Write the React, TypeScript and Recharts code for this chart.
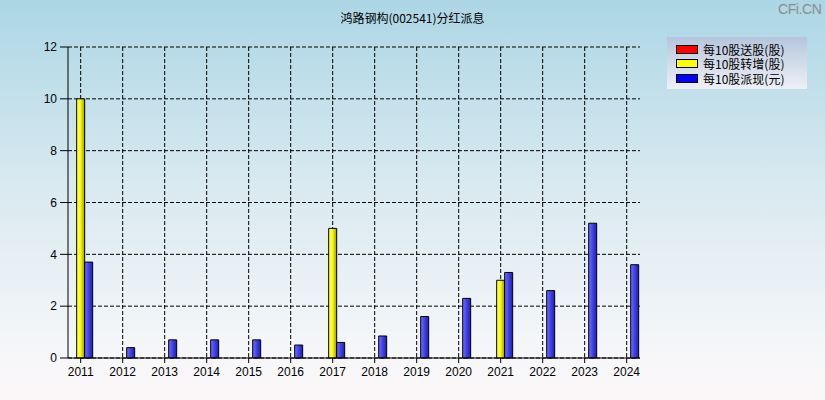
import React from 'react';
import { BarChart, Bar, XAxis, YAxis, CartesianGrid, Legend } from 'recharts';

const years = [2011, 2012, 2013, 2014, 2015, 2016, 2017, 2018, 2019, 2020, 2021, 2022, 2023, 2024];
const songGu: (number | null)[] = [null, null, null, null, null, null, null, null, null, null, null, null, null, null];
const zhuanZeng: (number | null)[] = [10, null, null, null, null, null, 5, null, null, null, 3, null, null, null];
const paiXian: (number | null)[] = [3.7, 0.4, 0.7, 0.7, 0.7, 0.5, 0.6, 0.85, 1.6, 2.3, 3.3, 2.6, 5.2, 3.6];
const yTicks = [0, 2, 4, 6, 8, 10, 12];
const xDomain = [2010.698, 2024.317];
const seriesNames = ['每10股送股(股)', '每10股转增(股)', '每10股派现(元)'];
const seriesColors = ['#ff0000', '#ffff00', '#0000ff'];
const title = '鸿路钢构(002541)分红派息';

const data = years.map((y, i) => ({ year: y, song: songGu[i], zhuan: zhuanZeng[i], pai: paiXian[i] }));

const FONT = '"Liberation Sans", Arial, sans-serif';
const CJK = '"Noto Sans CJK SC", "Liberation Sans", sans-serif';

const verticalGen = (args: any) => {
  const xAxis = args && args.xAxis;
  if (xAxis && typeof xAxis.scale === 'function') {
    return years.map((y) => xAxis.scale(y));
  }
  const off = args.offset;
  return years.map((y) => off.left + ((y - xDomain[0]) / (xDomain[1] - xDomain[0])) * off.width);
};

const renderLegend = () => (
  <div
    style={{
      width: 140,
      height: 52,
      boxSizing: 'border-box',
      background: 'linear-gradient(#b6c5dd, #eef0f7)',
      paddingTop: 5,
      paddingLeft: 9,
    }}
  >
    {seriesNames.map((n, i) => (
      <div key={n} style={{ display: 'flex', alignItems: 'center', height: 14.5, overflow: 'visible' }}>
        <div
          style={{
            width: 22,
            height: 9,
            boxSizing: 'border-box',
            background: seriesColors[i],
            border: '1px solid #000',
            marginRight: 5,
            flexShrink: 0,
          }}
        />
        <span style={{ fontFamily: CJK, fontSize: 12, color: '#000', lineHeight: '13px', display: 'block', height: 13 }}>{n}</span>
      </div>
    ))}
  </div>
);

export default function App() {
  return (
    <div
      style={{
        position: 'absolute',
        left: 0,
        top: 0,
        width: 825,
        height: 400,
        background: 'linear-gradient(#acd6e5 0%, #d8e9f0 45%, #f7f7f9 90%, #fbf7f8 100%)',
        overflow: 'hidden',
      }}
    >
      <div
        style={{
          position: 'absolute',
          top: 9,
          left: 0,
          width: 825,
          textAlign: 'center',
          fontFamily: CJK,
          fontSize: 12,
          lineHeight: '18px',
          color: '#000',
        }}
      >
        {title}
      </div>
      <div
        style={{
          position: 'absolute',
          top: 1,
          left: 778,
          fontFamily: FONT,
          fontSize: 14,
          letterSpacing: -0.4,
          color: '#8c8c8c',
          lineHeight: '16px',
        }}
      >
        CFi.CN
      </div>
      <BarChart
        width={825}
        height={400}
        data={data}
        margin={{ top: 47, right: 185, left: 0, bottom: 0 }}
        barGap={0}
        barSize={8}
        style={{ position: 'absolute', left: 0, top: 0 }}
      >
        <defs>
          <linearGradient id="gYellow" x1="0" y1="0" x2="1" y2="0">
            <stop offset="0%" stopColor="#ffff60" />
            <stop offset="45%" stopColor="#ffff10" />
            <stop offset="100%" stopColor="#9a9a10" />
          </linearGradient>
          <linearGradient id="gBlue" x1="0" y1="0" x2="1" y2="0">
            <stop offset="0%" stopColor="#7070ff" />
            <stop offset="45%" stopColor="#4545f2" />
            <stop offset="100%" stopColor="#2020a0" />
          </linearGradient>
          <linearGradient id="gRed" x1="0" y1="0" x2="1" y2="0">
            <stop offset="0%" stopColor="#ff5050" />
            <stop offset="100%" stopColor="#a00000" />
          </linearGradient>
        </defs>
        <CartesianGrid
          stroke="#000"
          strokeDasharray="4 2"
          strokeWidth={1}
          verticalCoordinatesGenerator={verticalGen}
        />
        <XAxis
          dataKey="year"
          type="number"
          domain={xDomain}
          ticks={years}
          allowDataOverflow
          height={42}
          tickSize={5}
          tickMargin={4}
          stroke="#000"
          tick={{ fill: '#000', fontFamily: FONT, fontSize: 12 }}
          tickLine={{ stroke: '#000' }}
          axisLine={{ stroke: '#000' }}
          interval={0}
        />
        <YAxis
          type="number"
          domain={[0, 12]}
          ticks={yTicks}
          width={68}
          tickSize={8}
          tickMargin={3}
          stroke="#000"
          tick={{ fill: '#000', fontFamily: FONT, fontSize: 12 }}
          tickLine={{ stroke: '#000' }}
          axisLine={{ stroke: '#000' }}
          interval={0}
        />
        <Legend
          layout="vertical"
          align="center"
          verticalAlign="middle"
          content={renderLegend}
          wrapperStyle={{ position: 'absolute', left: 667, top: 37, width: 140, height: 52 }}
        />
        <Bar dataKey="song" name={seriesNames[0]} fill="url(#gRed)" stroke="#000" strokeWidth={1} isAnimationActive={false} />
        <Bar dataKey="zhuan" name={seriesNames[1]} fill="url(#gYellow)" stroke="#000" strokeWidth={1} isAnimationActive={false} />
        <Bar dataKey="pai" name={seriesNames[2]} fill="url(#gBlue)" stroke="#000" strokeWidth={1} isAnimationActive={false} />
      </BarChart>
    </div>
  );
}
